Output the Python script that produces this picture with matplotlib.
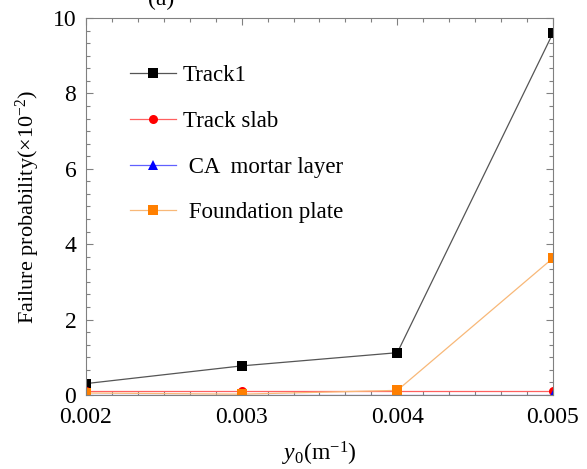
import numpy as np
import matplotlib
matplotlib.use('Agg')
import matplotlib.pyplot as plt
from matplotlib.ticker import MultipleLocator, AutoMinorLocator

plt.rcParams['font.family'] = ['Liberation Serif', 'DejaVu Serif']
plt.rcParams['mathtext.fontset'] = 'custom'
plt.rcParams['mathtext.rm'] = 'Liberation Serif'
plt.rcParams['mathtext.it'] = 'Liberation Serif:italic'

y0 = [0.002, 0.003, 0.004, 0.005]
track1 = [0.30, 0.77, 1.12, 9.60]
track_slab = [0.10, 0.10, 0.10, 0.10]
ca_mortar = [0.0, 0.0, 0.0, 0.0]
foundation = [0.05, 0.02, 0.12, 3.63]

# label, values, line colour, marker colour, marker
series = [
    ('Track1', track1, '#555555', 'black', 's'),
    ('Track slab', track_slab, '#FF6060', 'red', 'o'),
    (' CA  mortar layer', ca_mortar, '#6060FF', 'blue', '^'),
    (' Foundation plate', foundation, '#F8B878', '#FF7F00', 's'),
]

fig = plt.figure(figsize=(5.87, 4.69), dpi=100)
ax = fig.add_axes([0.1465, 0.158, 0.7955, 0.8035])

for label, vals, lc, mc, mk in series:
    ax.plot(y0, vals, color=lc, lw=0.9, marker=mk, markersize=6.5,
            markerfacecolor=mc, markeredgewidth=0, label=label)

ax.set_xlim(0.002, 0.005)
ax.set_ylim(0, 10)
ax.xaxis.set_major_locator(MultipleLocator(0.001))
ax.xaxis.set_minor_locator(AutoMinorLocator(6))
ax.yaxis.set_major_locator(MultipleLocator(2))
ax.yaxis.set_minor_locator(AutoMinorLocator(6))
ax.xaxis.set_major_formatter(plt.FormatStrFormatter('%.3f'))
ax.tick_params(which='both', direction='in', top=True, right=True,
               color='#808080', labelsize=17, width=0.8)
ax.tick_params(which='major', length=5)
ax.tick_params(which='minor', length=3)
ax.tick_params(axis='x', which='major', pad=9)
ax.tick_params(axis='y', which='major', pad=7)
for s in ax.spines.values():
    s.set_color('#808080')
    s.set_linewidth(0.8)

ax.set_xlabel('$y_0$(m$^{-1}$)', fontsize=17, labelpad=8)
ax.set_ylabel('Failure probability(×10$^{-2}$)', fontsize=16, labelpad=8)

ax.legend(loc='upper left', bbox_to_anchor=(0.05, 0.93), frameon=False,
          fontsize=16.5, labelspacing=1.08, handlelength=2.0,
          handletextpad=0.3)

fig.text(0.275, 1.002, '(a)', fontsize=17, va='center', ha='center')

fig.savefig('out.png', dpi=100)
